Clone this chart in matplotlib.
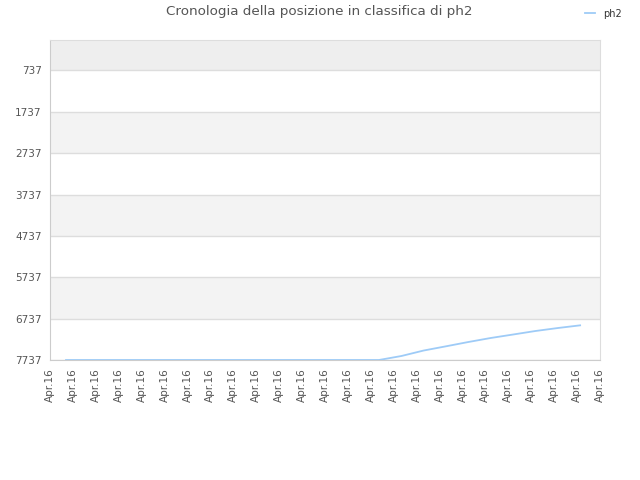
import numpy as np
import matplotlib
matplotlib.use("Agg")
import matplotlib.pyplot as plt

# rank history of ph2 (one value per sample)
ranks = [7737, 7737, 7737, 7737, 7737, 7737, 7737, 7737, 7737, 7737, 7737, 7737,
         7737, 7737, 7737, 7641, 7508, 7406, 7302, 7205, 7121, 7036, 6964, 6899]
y_ticks = [737, 1737, 2737, 3737, 4737, 5737, 6737, 7737]
x_label = "Apr.16"
n_xticks = 25
series_name = "ph2"
title = "Cronologia della posizione in classifica di ph2"

fig = plt.figure(figsize=(6.4, 4.8), dpi=100)
ax = fig.add_axes([50 / 640, 120 / 480, 550 / 640, 320 / 480])

x = np.arange(len(ranks))
ax.set_xlim(-0.716, len(ranks) - 1 + 0.89)
ax.set_ylim(y_ticks[-1], 0)

# alternating bands
ax.axhspan(0, y_ticks[0], color="#eeeeee", zorder=0, lw=0)
for i in range(1, len(y_ticks) - 1, 2):
    ax.axhspan(y_ticks[i], y_ticks[i + 1], color="#f3f3f3", zorder=0, lw=0)
for t in y_ticks:
    ax.axhline(t, color="#dddddd", lw=1, zorder=1)

ax.plot(x, ranks, color="#9ecbf7", lw=1.3, label=series_name, zorder=3)

ax.set_yticks(y_ticks)
ax.set_yticklabels([str(t) for t in y_ticks])
xt = np.linspace(ax.get_xlim()[0], ax.get_xlim()[1], n_xticks)
ax.set_xticks(xt)
ax.set_xticklabels([x_label] * n_xticks, rotation=90)
ax.tick_params(length=0, labelsize=7.5, colors="#555555", pad=6)

for s in ax.spines.values():
    s.set_color("#dddddd")
ax.spines["left"].set_color("#cccccc")
ax.spines["bottom"].set_color("#cccccc")

fig.text(319 / 640, 1 - 12 / 480, title, ha="center", va="center",
         fontsize=9.7, color="#555555")
leg = fig.legend(loc="upper right", bbox_to_anchor=(0.985, 1.0), frameon=False,
                 fontsize=7, handlelength=1.0, handletextpad=0.8)
for t in leg.get_texts():
    t.set_color("#333333")

fig.savefig("out.png", dpi=100)
